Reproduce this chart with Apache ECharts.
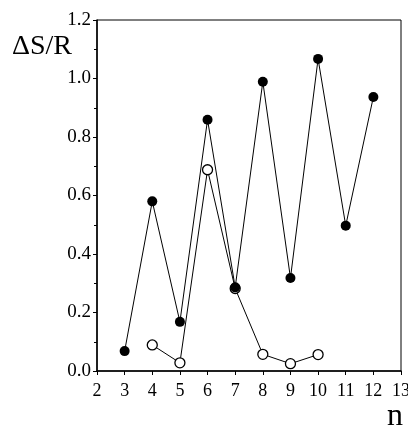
<!DOCTYPE html>
<html>
<head>
<meta charset="utf-8">
<script src="https://cdn.jsdelivr.net/npm/echarts@6/dist/echarts.min.js"></script>
<style>
  html, body { margin: 0; padding: 0; background: #fff; }
  #chart { width: 408px; height: 430px; }
</style>
</head>
<body>
<div id="chart"></div>
<script>
// data
const nFilled = [3, 4, 5, 6, 7, 8, 9, 10, 11, 12];
const dsFilled = [0.068, 0.58, 0.168, 0.859, 0.286, 0.989, 0.318, 1.067, 0.497, 0.937];
const nOpen = [4, 5, 6, 7, 8, 9, 10];
const dsOpen = [0.089, 0.028, 0.688, 0.282, 0.057, 0.025, 0.056];
const xTicks = [2, 3, 4, 5, 6, 7, 8, 9, 10, 11, 12, 13];
const yTicks = [0.0, 0.2, 0.4, 0.6, 0.8, 1.0, 1.2];

const serif = '"Liberation Serif", "DejaVu Serif", serif';

let chart = echarts.init(document.getElementById('chart'));

const option = {
  animation: false,
  grid: {
    left: 97, right: 7, top: 20, bottom: 59,
    outerBoundsMode: 'none',
    show: true,
    borderColor: '#000',
    borderWidth: 1,
    backgroundColor: 'transparent'
  },
  xAxis: {
    type: 'value',
    min: xTicks[0],
    max: xTicks[xTicks.length - 1],
    interval: 1,
    splitLine: {show: false},
    axisLine: {lineStyle: {color: '#000', width: 1.5}},
    axisTick: {inside: false, length: 4, lineStyle: {color: '#000'}},
    axisLabel: {
      color: '#000', fontFamily: serif, fontSize: 18, margin: 11,
      formatter: v => String(v)
    }
  },
  yAxis: {
    type: 'value',
    min: yTicks[0],
    max: yTicks[yTicks.length - 1],
    interval: 0.2,
    splitLine: {show: false},
    axisLine: {lineStyle: {color: '#000', width: 1.5}},
    axisTick: {inside: false, length: 4, lineStyle: {color: '#000'}},
    minorTick: {show: true, splitNumber: 2, length: 3, lineStyle: {color: '#000'}},
    axisLabel: {
      color: '#000', fontFamily: serif, fontSize: 19, margin: 6,
      formatter: v => v.toFixed(1)
    }
  },
  graphic: [
    {
      type: 'text',
      left: 12,
      top: 33,
      style: {
        text: 'ΔS/R',
        fill: '#000',
        font: '28px ' + serif
      }
    },
    {
      type: 'text',
      style: {
        x: 403,
        y: 417,
        text: 'n',
        fill: '#000',
        font: '32px ' + serif,
        align: 'right',
        verticalAlign: 'middle'
      }
    }
  ],
  series: [
    {
      name: 'open',
      type: 'line',
      z: 2,
      data: nOpen.map((n, i) => [n, dsOpen[i]]),
      symbol: 'circle',
      symbolSize: 10,
      lineStyle: {color: '#000', width: 1},
      itemStyle: {color: '#fff', borderColor: '#000', borderWidth: 1.3}
    },
    {
      name: 'filled',
      type: 'line',
      z: 3,
      data: nFilled.map((n, i) => [n, dsFilled[i]]),
      symbol: 'circle',
      symbolSize: 10,
      lineStyle: {color: '#000', width: 1},
      itemStyle: {color: '#000', borderColor: '#000', borderWidth: 0}
    }
  ]
};

chart.setOption(option);
</script>
</body>
</html>
